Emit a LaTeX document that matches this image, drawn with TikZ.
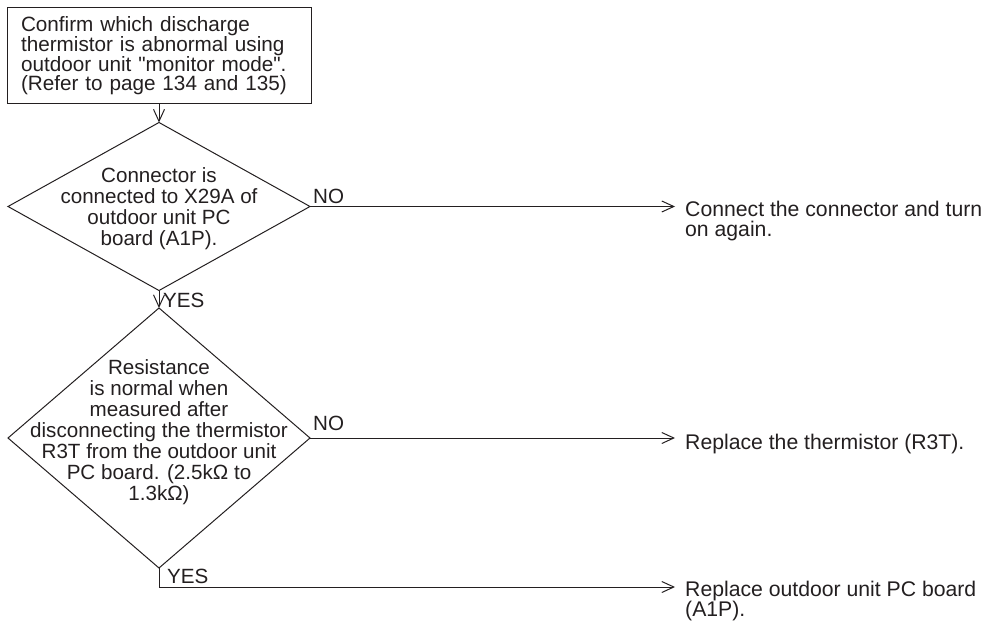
\documentclass[tikz,border=0pt]{standalone}
\usepackage{fontspec}
\setmainfont{Liberation Sans}[Ligatures=TeXOff]
\usetikzlibrary{arrows.meta,shapes.geometric,calc}
\definecolor{ink}{HTML}{231F20}

\begin{document}
\begin{tikzpicture}[
  x=1pt,y=-1pt,>={Straight Barb[length=12pt,width=11pt]},
  base/.style={draw=ink,line width=1pt,outer sep=0pt},
  startbox/.style={base,rectangle,align=left,text width=276pt,inner xsep=14pt,inner ysep=6pt,
    minimum width=304pt,minimum height=95pt,text=ink,
    font=\fontsize{20.7}{19}\selectfont},
  decision/.style={base,diamond,inner sep=0pt,minimum width=302pt},
  dtext/.style={align=center,inner sep=0pt,text=ink,font=\fontsize{20.6}{21}\selectfont},
  result/.style={align=left,inner xsep=10pt,inner ysep=0pt,text=ink,
    font=\fontsize{21.2}{20}\selectfont},
  lbl/.style={inner sep=0pt,text=ink,font=\fontsize{20.6}{21}\selectfont},
  arrow/.style={->,draw=ink,line width=1pt}
]
\useasboundingbox (0,0) rectangle (993,626);

% check sequence on the left
\node[startbox] (confirm) at (159,55.5)
  {Confirm which discharge\\thermistor is abnormal using\\outdoor unit "monitor mode".\\(Refer to page 134 and 135)};
\node[decision,minimum height=168pt] (conn) at (159,206.5) {};
\node[dtext] (conntext) at (159,209)
  {Connector is\\connected to X29A of\\outdoor unit PC\\board (A1P).};
\node[decision,minimum height=260pt] (resist) at (159,438) {};
\node[dtext] (resisttext) at (159,432)
  {Resistance\\is normal when\\measured after\\disconnecting the thermistor\\R3T from the outdoor unit\\PC board. (2.5kΩ to\\1.3kΩ)};

% remedies on the right
\node[result,anchor=north west] (fixconn) at (675,200.5)
  {Connect the connector and turn\\on again.};
\node[result,anchor=base west] (fixtherm) at (675,449) {Replace the thermistor (R3T).};
\node[result,anchor=north west] (fixboard) at (675,581)
  {Replace outdoor unit PC board\\(A1P).};
\coordinate (turn) at (159,587);

\draw[arrow] (confirm) -- (conn);
\draw[arrow] (conn) -- (resist);
\draw[arrow] (conn.east) -- (conn.east -| fixconn.west);
\draw[arrow] (resist.east) -- (resist.east -| fixtherm.west);
\draw[arrow] (resist.south) -- (turn) -- (turn -| fixboard.west);

\node[lbl,anchor=base west] (yes1) at (163,307) {YES};
\node[lbl,anchor=base west] (no1) at (313,203) {NO};
\node[lbl,anchor=base west] (no2) at (313,430) {NO};
\node[lbl,anchor=base west] (yes2) at (167,583) {YES};
\end{tikzpicture}
\end{document}
